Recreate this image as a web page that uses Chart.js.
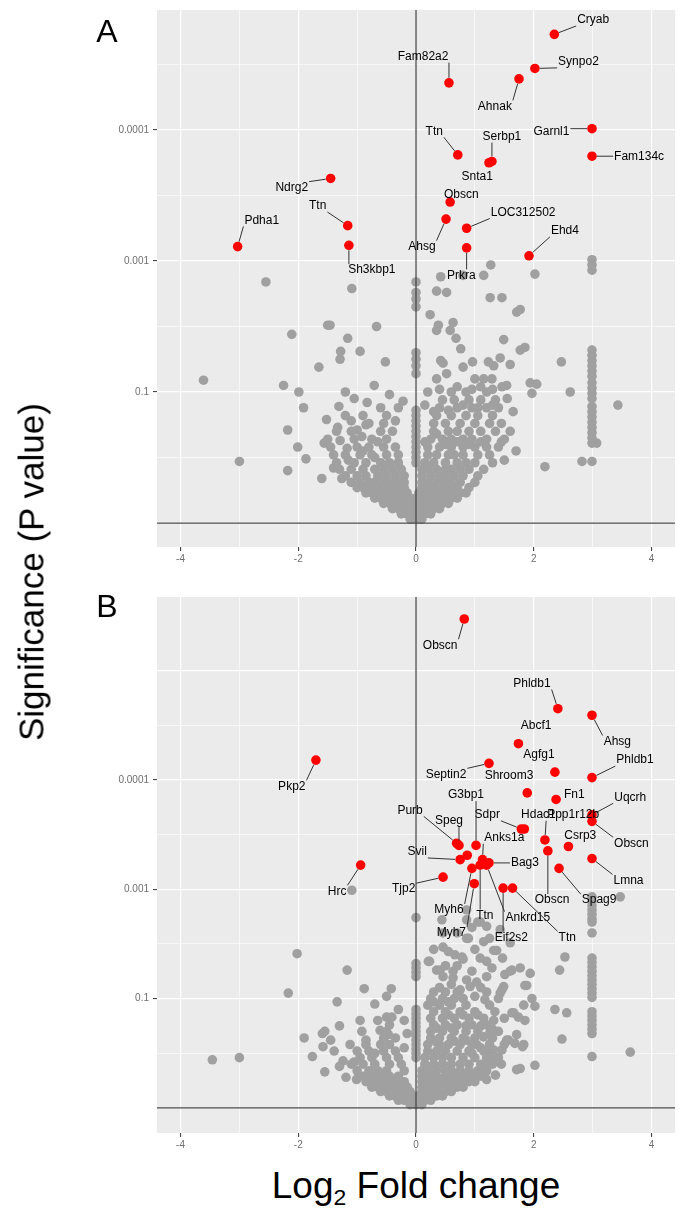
<!doctype html>
<html lang="en">
<head>
<meta charset="utf-8">
<title>Volcano plots</title>
<script src="https://cdn.jsdelivr.net/npm/chart.js"></script>
<style>
html, body { margin: 0; padding: 0; background: #ffffff; }
#page { position: relative; width: 686px; height: 1215px; overflow: hidden; font-family: "Liberation Sans", Arial, sans-serif; color: #000; }
canvas { position: absolute; left: 0; }
#chartA { top: 0; }
#chartB { top: 580px; }
.tag { position: absolute; font-size: 32px; line-height: 1; transform: translate(-50%, -50%); }
#ytitle { position: absolute; left: 31px; top: 572px; transform: translate(-50%, -50%) rotate(-90deg); font-size: 35px; white-space: nowrap; line-height: 1; }
#xtitle { position: absolute; left: 416px; top: 1188px; transform: translate(-50%, -50%); font-size: 37px; white-space: nowrap; line-height: 1; }
#xtitle span { font-size: 0.62em; vertical-align: -0.3em; }
</style>
</head>
<body>
<div id="page">
    <canvas id="chartA" width="686" height="580"></canvas>
    <canvas id="chartB" width="686" height="580"></canvas>
    <div class="tag" style="left:107px;top:31px">A</div>
    <div class="tag" style="left:107px;top:606px">B</div>
    <div id="ytitle">Significance (P value)</div>
    <div id="xtitle">Log<span>2</span> Fold change</div>
</div>
<script>
// axis ticks
const xTickValues = [-4, -2, 0, 2, 4];
const yTickValues = [1, 2, 3];
const yTickText = ['0.1', '0.001', '0.0001'];

// ---- panel A ----
const aGenes = ['Cryab', 'Synpo2', 'Ahnak', 'Fam82a2', 'Garnl1', 'Fam134c', 'Ttn', 'Serbp1', 'Snta1',
    'Obscn', 'Ahsg', 'LOC312502', 'Prkra', 'Ehd4', 'Ndrg2', 'Ttn', 'Sh3kbp1', 'Pdha1'];
const aRed = [[2.35,3.73],[2.02,3.47],[1.75,3.39],[0.56,3.36],[2.99,3.01],[2.99,2.80],[0.71,2.81],[1.29,2.76],[1.24,2.75],
    [0.58,2.45],[0.51,2.32],[0.86,2.25],[0.86,2.10],[1.92,2.04],[-1.45,2.63],[-1.16,2.27],[-1.14,2.12],[-3.03,2.11]];
// where each gene name sits (data units)
const aLabelAt = [[3.01,3.84],[2.76,3.52],[1.34,3.18],[0.12,3.56],[2.30,2.99],[3.79,2.80],[0.31,2.99],[1.46,2.95],[1.04,2.64],
    [0.77,2.51],[0.10,2.11],[1.82,2.37],[0.77,1.89],[2.53,2.23],[-2.11,2.56],[-1.67,2.42],[-0.75,1.93],[-2.62,2.31]];
const aGrey = [
    [-3.61,1.09],[-3.00,0.47],[-2.55,1.84],[-2.25,1.05],[-2.18,0.71],[-2.18,0.40],[-2.11,1.44],[-2.01,0.58],[-1.99,1.00],
    [-1.91,0.88],[-1.87,0.49],[-1.65,1.19],[-1.60,0.34],[-1.56,0.61],[-1.52,0.79],[-1.50,1.51],[-1.46,1.51],[-1.33,0.73],
    [-1.31,0.89],[-1.29,1.25],[-1.28,1.31],[-1.29,0.63],[-1.26,0.34],[-1.17,0.57],[-1.16,1.41],[-1.09,1.79],[-1.00,0.71],
    [-0.95,1.31],[-0.92,0.66],[-0.83,0.92],[-0.71,1.05],[-0.67,1.50],[-0.52,1.23],[-0.22,0.93],
    [-0.7,0.50],[-0.9,0.55],[-1.15,0.48],[-1.4,0.42],[-0.65,0.62],[-0.85,0.75],[-1.1,0.78],[-0.35,0.78],[-0.3,0.88],
    [-0.45,0.98],[-1.05,0.95],[-1.2,1.00],
    [0,1.84],[0,1.76],[0,1.71],[0,1.65],[0,1.30],[0,1.25],[0,1.20],[0,1.14],[0,0.86],[0,0.82],[0,0.78],[0,0.74],
    [0,0.70],[0,0.66],[0,0.62],[0,0.58],[0,0.54],[0,0.50],[0,0.46],
    [0.42,1.88],[0.80,1.89],[1.15,1.89],[1.27,1.97],[2.02,1.90],[0.35,1.77],[0.52,1.76],[1.26,1.72],[1.46,1.72],[0.24,1.59],
    [1.71,1.61],[1.77,1.63],[0.38,1.51],[0.35,1.47],[0.58,1.47],[0.63,1.53],[0.68,1.41],[0.76,1.33],[1.49,1.40],[1.77,1.32],
    [1.85,1.34],[0.42,1.24],[0.46,1.22],[0.35,1.10],[0.52,1.14],[0.80,1.19],[0.96,1.23],[1.23,1.23],[1.32,1.20],[1.43,1.26],
    [1.60,1.21],[1.00,1.10],[1.15,1.10],[1.29,1.10],[1.46,1.04],[1.54,1.05],[1.94,1.07],[2.05,1.06],[1.97,0.99],[2.47,1.23],
    [2.62,1.00],[3.43,0.90],[2.19,0.43],[2.82,0.47],[3.07,0.61],
    [0.15,0.62],[0.35,0.68],[0.5,0.60],[0.7,0.62],[0.9,0.60],[1.1,0.62],[0.3,0.85],[0.55,0.86],[0.8,0.90],[1.05,0.88],
    [1.3,0.90],[0.4,1.02],[0.7,1.04],[0.95,1.02],[1.1,1.04],[1.3,1.02],[0.15,0.90],[1.55,0.95],[1.65,0.85],[1.6,0.70],
    [1.45,0.62],[1.7,0.55],[1.5,0.48],
    [2.99,2.01],[2.99,1.97],[2.99,1.93],[2.99,1.32],[2.99,1.28],[2.99,1.24],[2.99,1.20],[2.99,1.16],[2.99,1.12],[2.99,1.07],
    [2.99,1.03],[2.99,0.99],[2.99,0.95],[2.99,0.89],[2.99,0.85],[2.99,0.81],[2.99,0.77],[2.99,0.73],[2.99,0.69],[2.99,0.65],
    [2.99,0.61],[2.99,0.47],
    [-0.1,0.03],[0,0.03],[0.1,0.03],
    [-0.25,0.07],[-0.15,0.07],[-0.05,0.07],[0.05,0.07],[0.15,0.07],[0.25,0.07],
    [-0.4,0.11],[-0.3,0.11],[-0.2,0.11],[-0.1,0.11],[0,0.11],[0.1,0.11],[0.2,0.11],[0.3,0.11],[0.4,0.11],
    [-0.55,0.15],[-0.45,0.15],[-0.35,0.15],[-0.25,0.15],[-0.15,0.15],[-0.05,0.15],[0.05,0.15],[0.15,0.15],[0.25,0.15],
    [0.35,0.15],[0.45,0.15],[0.55,0.15],
    [-0.7,0.19],[-0.6,0.19],[-0.5,0.19],[-0.4,0.19],[-0.3,0.19],[-0.2,0.19],[-0.1,0.19],[0,0.19],[0.1,0.19],[0.2,0.19],
    [0.3,0.19],[0.4,0.19],[0.5,0.19],[0.6,0.19],[0.7,0.19],
    [-0.85,0.23],[-0.75,0.23],[-0.65,0.23],[-0.55,0.23],[-0.45,0.23],[-0.35,0.23],[-0.25,0.23],[-0.15,0.23],[0.05,0.23],
    [0.15,0.23],[0.25,0.23],[0.35,0.23],[0.45,0.23],[0.55,0.23],[0.65,0.23],[0.75,0.23],[0.85,0.23],
    [-1.0,0.27],[-0.9,0.27],[-0.8,0.27],[-0.7,0.27],[-0.6,0.27],[-0.5,0.27],[-0.4,0.27],[-0.3,0.27],[-0.2,0.27],[0.1,0.27],
    [0.2,0.27],[0.3,0.27],[0.4,0.27],[0.5,0.27],[0.6,0.27],[0.7,0.27],[0.9,0.27],
    [-1.1,0.31],[-0.95,0.31],[-0.8,0.31],[-0.7,0.31],[-0.55,0.31],[-0.4,0.31],[-0.3,0.31],[-0.2,0.31],[0.1,0.31],[0.2,0.31],
    [0.35,0.31],[0.45,0.31],[0.6,0.31],[0.75,0.31],[1.0,0.31],
    [-1.2,0.36],[-1.0,0.36],[-0.85,0.36],[-0.65,0.36],[-0.5,0.36],[-0.35,0.36],[-0.2,0.36],[0.1,0.36],[0.25,0.36],[0.4,0.36],
    [0.5,0.36],[0.65,0.36],[0.8,0.36],[1.05,0.36],
    [-1.3,0.41],[-1.1,0.41],[-0.9,0.41],[-0.7,0.41],[-0.55,0.41],[-0.4,0.41],[-0.25,0.41],[0.1,0.41],[0.2,0.41],[0.35,0.41],
    [0.5,0.41],[0.6,0.41],[0.75,0.41],[0.9,0.41],[1.15,0.41],
    [-1.35,0.46],[-1.05,0.46],[-0.85,0.46],[-0.6,0.46],[-0.45,0.46],[-0.3,0.46],[0.15,0.46],[0.3,0.46],[0.5,0.46],[0.7,0.46],
    [0.85,0.46],[1.0,0.46],[1.3,0.46],
    [-1.4,0.52],[-1.2,0.52],[-0.95,0.52],[-0.75,0.52],[-0.5,0.52],[-0.3,0.52],[0.2,0.52],[0.35,0.52],[0.55,0.52],[0.65,0.52],
    [0.8,0.52],[1.05,0.52],[1.25,0.52],
    [-1.45,0.58],[-1.0,0.58],[-0.8,0.58],[-0.55,0.58],[-0.35,0.58],[0.2,0.58],[0.4,0.58],[0.6,0.58],[0.8,0.58],[1.0,0.58],
    [1.2,0.58],[1.4,0.58],
    [-1.5,0.64],[-1.05,0.64],[-0.75,0.64],[-0.5,0.64],[0.25,0.64],[0.45,0.64],[0.6,0.64],[0.8,0.64],[0.95,0.64],[1.2,0.64],[1.5,0.64],
    [-1.35,0.70],[-1.1,0.70],[-0.6,0.70],[-0.4,0.70],[0.3,0.70],[0.55,0.70],[0.7,0.70],[0.9,0.70],[1.1,0.70],[1.35,0.70],
    [-0.8,0.76],[-0.55,0.76],[0.3,0.76],[0.5,0.76],[0.75,0.76],[1.0,0.76],[1.25,0.76],[1.45,0.76],
    [-1.2,0.82],[-0.9,0.82],[-0.5,0.82],[0.35,0.82],[0.6,0.82],[0.85,0.82],[1.05,0.82],[1.3,0.82],
    [-0.6,0.88],[0.4,0.88],[0.7,0.88],[0.95,0.88],[1.2,0.88],[1.4,0.88],
    [0.45,0.94],[0.65,0.94],[0.9,0.94],[1.1,0.94],[1.35,0.94],
    [0.2,1.00],[0.6,1.00],[0.85,1.00],[1.2,1.00]
];

// ---- panel B ----
const bGenes = ['Obscn', 'Phldb1', 'Ahsg', 'Abcf1', 'Septin2', 'Agfg1', 'Phldb1', 'Shroom3', 'Fn1', 'Uqcrh', 'Obscn',
    'Sdpr', 'Hdac1', 'Ppp1r12b', 'Csrp3', 'Obscn', 'Lmna', 'Spag9', 'Purb', 'Speg', 'G3bp1', 'Anks1a', 'Svil', 'Bag3',
    'Myh6', 'Ttn', 'Ankrd15', 'Tjp2', 'Myh7', 'Eif2s2', 'Ttn', 'Pkp2', 'Hrc', ''];
const bRed = [[0.82,4.47],[2.41,3.65],[2.99,3.59],[1.74,3.33],[1.24,3.15],[2.36,3.07],[2.99,3.02],[1.89,2.88],[2.38,2.82],
    [2.99,2.68],[2.99,2.62],[1.79,2.55],[1.84,2.55],[2.19,2.45],[2.59,2.39],[2.24,2.35],[2.99,2.28],[2.43,2.19],[0.69,2.42],
    [0.73,2.40],[1.02,2.40],[1.13,2.27],[0.75,2.27],[1.24,2.24],[0.95,2.19],[1.09,2.22],[1.20,2.22],[0.46,2.11],[0.99,2.05],
    [1.48,2.01],[1.64,2.01],[-1.70,3.18],[-0.94,2.22],[0.87,2.31]];
const bLabelAt = [[0.41,4.23],[1.97,3.88],[3.42,3.35],[2.04,3.49],[0.51,3.05],[2.09,3.23],[3.72,3.18],[1.58,3.04],[2.69,2.86],
    [3.64,2.84],[3.66,2.42],[1.21,2.68],[2.08,2.68],[2.67,2.68],[2.79,2.49],[2.31,1.90],[3.61,2.08],[3.11,1.90],[-0.10,2.72],
    [0.56,2.63],[0.85,2.86],[1.50,2.47],[0.02,2.34],[1.85,2.24],[0.56,1.81],[1.17,1.76],[1.90,1.74],[-0.21,2.00],[0.60,1.60],
    [1.62,1.56],[2.57,1.56],[-2.11,2.94],[-1.34,1.98],[0.87,2.31]];
const bGrey = [
    [-3.46,0.44],[-3.00,0.46],[-2.17,1.05],[-2.02,1.41],[-1.90,0.64],[-1.76,0.47],[-1.59,0.68],[-1.55,0.70],[-1.58,0.56],
    [-1.55,0.33],[-1.39,0.52],[-1.34,0.97],[-1.24,0.43],[-1.19,0.28],[-1.17,1.26],[-1.12,0.58],[-1.09,1.99],[-1.01,0.26],
    [-0.95,0.80],[-0.92,0.70],[-0.88,1.09],[-0.61,0.71],[-0.50,1.02],[-0.50,0.83],[-0.47,0.67],[-0.42,1.09],[-0.41,0.83],
    [-0.7,0.50],[-0.85,0.62],[-0.65,0.80],[-0.3,0.90],[-0.2,0.80],[-0.7,0.95],[-1.3,0.75],[-1.45,0.62],[-1.3,0.38],
    [-0.2,0.55],[-0.15,0.68],[-1.05,0.42],
    [0,1.74],[0,1.32],[0,1.28],[0,1.24],[0,1.20],[0,0.90],[0,0.86],[0,0.82],[0,0.78],[0,0.74],[0,0.70],[0,0.66],
    [0,0.62],[0,0.58],[0,0.54],[0,0.50],[0,0.46],
    [2.99,1.93],[2.99,1.89],[2.99,1.85],[2.99,1.81],[2.99,1.77],[2.99,1.73],[2.99,1.70],[2.99,1.60],[2.99,1.37],[2.99,1.33],
    [2.99,1.29],[2.99,1.25],[2.99,1.21],[2.99,1.17],[2.99,1.13],[2.99,1.09],[2.99,1.05],[2.99,1.01],[2.99,0.88],[2.99,0.84],
    [2.99,0.80],[2.99,0.76],[2.99,0.72],[2.99,0.68],[2.99,0.47],
    [3.47,1.93],[3.64,0.51],[2.53,1.38],[2.44,1.26],[2.56,0.87],[2.36,0.90],[2.48,0.63],[2.02,0.39],[1.77,0.36],[1.71,0.35],
    [0.44,1.72],[0.86,1.72],[1.09,1.70],[1.20,1.66],[0.46,1.60],[0.86,1.55],[1.15,1.52],[0.86,1.81],[1.32,1.44],[1.47,1.37],
    [0.55,1.43],[0.66,1.40],[0.80,1.36],[0.21,1.34],[1.09,1.37],[0.35,1.26],[0.46,1.20],[0.63,1.19],[0.86,1.17],[1.03,1.15],
    [1.20,1.20],[1.29,1.28],[1.20,1.34],[1.51,1.22],[1.63,1.26],[1.77,1.28],[1.94,1.23],[1.88,1.12],[1.46,1.08],[1.40,1.00],
    [1.17,0.99],[1.34,0.88],[1.32,0.80],[1.26,0.70],[1.15,0.65],[1.03,0.58],[0.95,0.50],[1.20,0.50],[1.32,0.53],[1.46,0.53],
    [1.54,0.62],[1.68,0.59],[1.81,0.56],[1.71,0.67],[1.63,0.87],[1.74,0.83],[1.85,0.80],[1.83,0.94],[1.97,1.00],[2.02,0.93],
    [1.60,1.51],[1.43,1.63],[1.37,1.44],[0.89,1.55],[0.78,1.38],[0.46,1.47],[0.23,1.34],[0.41,1.26],[0.63,1.25],[0.95,1.25],
    [0.92,1.11],[1.60,1.25],[1.49,1.11],[1.85,1.12],[1.43,1.05],[1.66,0.87],[1.57,0.62],[1.83,0.58],[1.05,1.70],
    [0.3,0.97],[0.55,0.97],[0.8,1.00],[1.0,1.02],[0.4,1.10],[0.6,1.13],[0.75,1.08],[1.1,1.10],[0.55,0.85],[0.8,0.85],
    [1.05,0.85],[0.35,0.73],[0.6,0.73],[0.85,0.75],[1.1,0.75],[1.3,0.72],[0.35,0.60],[0.65,0.61],[0.85,0.62],[1.1,0.55],
    [1.3,0.45],[1.45,0.40],[1.2,0.38],[1.35,0.30],[1.2,0.26],[0.5,1.30],[0.7,1.30],[0.3,1.45],[1.0,1.45],[0.7,1.60],
    [1.25,1.55],[0.95,1.65],
    [-0.1,0.03],[0,0.03],[0.1,0.03],
    [-0.3,0.07],[-0.2,0.07],[-0.1,0.07],[0.05,0.07],[0.15,0.07],[0.25,0.07],
    [-0.45,0.11],[-0.35,0.11],[-0.25,0.11],[-0.15,0.11],[-0.05,0.11],[0.05,0.11],[0.15,0.11],[0.25,0.11],[0.35,0.11],[0.45,0.11],
    [-0.6,0.15],[-0.5,0.15],[-0.4,0.15],[-0.3,0.15],[-0.2,0.15],[-0.1,0.15],[0.1,0.15],[0.2,0.15],[0.3,0.15],[0.4,0.15],
    [0.5,0.15],[0.6,0.15],
    [-0.75,0.19],[-0.65,0.19],[-0.55,0.19],[-0.45,0.19],[-0.35,0.19],[-0.25,0.19],[-0.15,0.19],[0.1,0.19],[0.2,0.19],
    [0.3,0.19],[0.4,0.19],[0.5,0.19],[0.6,0.19],[0.7,0.19],[0.8,0.19],
    [-0.85,0.24],[-0.7,0.24],[-0.6,0.24],[-0.5,0.24],[-0.4,0.24],[-0.3,0.24],[-0.2,0.24],[0.1,0.24],[0.2,0.24],[0.3,0.24],
    [0.4,0.24],[0.5,0.24],[0.6,0.24],[0.75,0.24],[0.9,0.24],[1.0,0.24],
    [-0.9,0.29],[-0.75,0.29],[-0.6,0.29],[-0.45,0.29],[-0.3,0.29],[0.1,0.29],[0.25,0.29],[0.35,0.29],[0.5,0.29],[0.65,0.29],
    [0.8,0.29],[0.95,0.29],[1.1,0.29],
    [-1.0,0.34],[-0.8,0.34],[-0.65,0.34],[-0.5,0.34],[-0.2,0.34],[0.1,0.34],[0.2,0.34],[0.35,0.34],[0.5,0.34],[0.6,0.34],
    [0.75,0.34],[0.9,0.34],[1.05,0.34],[1.2,0.34],
    [-1.1,0.40],[-0.9,0.40],[-0.7,0.40],[-0.45,0.40],[-0.25,0.40],[0.15,0.40],[0.3,0.40],[0.45,0.40],[0.6,0.40],[0.75,0.40],
    [0.9,0.40],[1.1,0.40],[1.3,0.40],
    [-0.95,0.46],[-0.75,0.46],[-0.5,0.46],[-0.3,0.46],[0.15,0.46],[0.3,0.46],[0.45,0.46],[0.6,0.46],[0.8,0.46],[1.0,0.46],
    [1.2,0.46],[1.4,0.46],
    [-1.0,0.52],[-0.8,0.52],[-0.55,0.52],[-0.35,0.52],[0.2,0.52],[0.35,0.52],[0.5,0.52],[0.7,0.52],[0.9,0.52],[1.15,0.52],
    [-0.85,0.58],[-0.6,0.58],[-0.45,0.58],[0.2,0.58],[0.4,0.58],[0.55,0.58],[0.75,0.58],[0.95,0.58],[1.25,0.58],[1.5,0.58],
    [-0.55,0.64],[-0.35,0.64],[0.25,0.64],[0.4,0.64],[0.6,0.64],[0.8,0.64],[1.0,0.64],[1.3,0.64],
    [-0.5,0.70],[0.25,0.70],[0.45,0.70],[0.65,0.70],[0.85,0.70],[1.05,0.70],[1.4,0.70],
    [-0.45,0.76],[0.3,0.76],[0.5,0.76],[0.7,0.76],[0.95,0.76],[1.2,0.76],
    [0.25,0.82],[0.45,0.82],[0.65,0.82],[0.9,0.82],[1.15,0.82],[1.5,0.82],
    [0.3,0.88],[0.5,0.88],[0.75,0.88],[1.0,0.88],
    [0.2,0.94],[0.4,0.94],[0.6,0.94],[0.85,0.94],[1.25,0.94],
    [0.25,1.00],[0.45,1.00],[0.65,1.00],
    [0.3,1.06],[0.5,1.06],[0.7,1.06],[1.2,1.06]
];

const FONT = '"Liberation Sans", Arial, sans-serif';

function near(v, list) {
    return list.findIndex(t => Math.abs(v - t) < 1e-6);
}

// grey panel background
const panelBg = {
    id: 'panelBg',
    beforeDraw(chart) {
        const a = chart.chartArea, ctx = chart.ctx;
        ctx.save();
        ctx.fillStyle = '#ebebeb';
        ctx.fillRect(a.left, a.top, a.width, a.height);
        ctx.restore();
    }
};

// zero lines and repelled gene labels
const geneLabels = {
    id: 'geneLabels',
    afterDatasetsDraw(chart, args, opts) {
        const {ctx, chartArea: a} = chart;
        const xs = chart.scales.x, ys = chart.scales.y;
        ctx.save();
        ctx.beginPath();
        ctx.rect(a.left, a.top, a.width, a.height);
        ctx.clip();
        ctx.strokeStyle = '#4a4a4a';
        ctx.lineWidth = 1.3;
        const x0 = xs.getPixelForValue(0), y0 = ys.getPixelForValue(0);
        ctx.beginPath();
        ctx.moveTo(x0, a.top); ctx.lineTo(x0, a.bottom);
        ctx.moveTo(a.left, y0); ctx.lineTo(a.right, y0);
        ctx.stroke();

        ctx.font = '12px ' + FONT;
        ctx.textAlign = 'center';
        ctx.textBaseline = 'middle';
        opts.genes.forEach((g, i) => {
            if (!g) return;
            const px = xs.getPixelForValue(opts.points[i][0]);
            const py = ys.getPixelForValue(opts.points[i][1]);
            const lx = xs.getPixelForValue(opts.at[i][0]);
            const ly = ys.getPixelForValue(opts.at[i][1]);
            const hw = ctx.measureText(g).width / 2 + 1, hh = 6;
            const cx = Math.max(lx - hw, Math.min(px, lx + hw));
            const cy = Math.max(ly - hh, Math.min(py, ly + hh));
            const d = Math.hypot(cx - px, cy - py);
            if (d > 14) {
                const sx = px + (cx - px) * 5 / d, sy = py + (cy - py) * 5 / d;
                ctx.strokeStyle = '#333333';
                ctx.lineWidth = 1;
                ctx.beginPath();
                ctx.moveTo(sx, sy);
                ctx.lineTo(cx, cy);
                ctx.stroke();
            }
            ctx.fillStyle = '#000000';
            ctx.fillText(g, lx, ly);
        });
        ctx.restore();
    }
};

function panel(id, grey, red, genes, labelAt, yMin, yMax, padTop, xAxisH) {
    return new Chart(document.getElementById(id), {
        type: 'scatter',
        data: {
            datasets: [
                { data: red.map(p => ({x: p[0], y: p[1]})), backgroundColor: '#ff0000', pointRadius: 4.8, borderWidth: 0 },
                { data: grey.map(p => ({x: p[0], y: p[1]})), backgroundColor: '#a0a0a0', pointRadius: 4.8, borderWidth: 0 }
            ]
        },
        options: {
            responsive: false,
            animation: false,
            events: [],
            layout: { padding: { left: 0, right: 11, top: padTop, bottom: 0 } },
            plugins: {
                legend: { display: false },
                tooltip: { enabled: false },
                geneLabels: { genes: genes, points: red, at: labelAt }
            },
            scales: {
                x: {
                    type: 'linear', min: -4.4, max: 4.4,
                    afterFit(s) { s.height = xAxisH; },
                    border: { display: false },
                    grid: {
                        color: '#ffffff',
                        lineWidth: c => near(c.tick.value, xTickValues) >= 0 ? 1.2 : 0.6,
                        tickLength: 4,
                        tickWidth: 1,
                        tickColor: c => near(c.tick.value, xTickValues) >= 0 ? '#333333' : 'rgba(0,0,0,0)'
                    },
                    ticks: {
                        stepSize: 1, includeBounds: false, autoSkip: false, maxRotation: 0, padding: 2,
                        color: '#6e6e6e', font: { size: 10, family: FONT },
                        callback: v => near(v, xTickValues) >= 0 ? String(Math.round(v)) : ''
                    }
                },
                y: {
                    type: 'linear', min: yMin, max: yMax,
                    afterFit(s) { s.width = 157; },
                    border: { display: false },
                    grid: {
                        color: c => c.tick.value > 4.1 ? 'rgba(0,0,0,0)' : '#ffffff',
                        lineWidth: c => Math.abs(c.tick.value - Math.round(c.tick.value)) < 1e-6 ? 1.2 : 0.6,
                        tickLength: 4,
                        tickWidth: 1,
                        tickColor: c => near(c.tick.value, yTickValues) >= 0 ? '#333333' : 'rgba(0,0,0,0)'
                    },
                    ticks: {
                        stepSize: 0.5, includeBounds: false, autoSkip: false, padding: 4,
                        color: '#6e6e6e', font: { size: 10, family: FONT },
                        callback: v => { const k = near(v, yTickValues); return k >= 0 ? yTickText[k] : ''; }
                    }
                }
            }
        },
        plugins: [panelBg, geneLabels]
    });
}

panel('chartA', aGrey, aRed, aGenes, aLabelAt, -0.183, 3.916, 10, 33);
panel('chartB', bGrey, bRed, bGenes, bLabelAt, -0.229, 4.671, 17, 27);
</script>
</body>
</html>
